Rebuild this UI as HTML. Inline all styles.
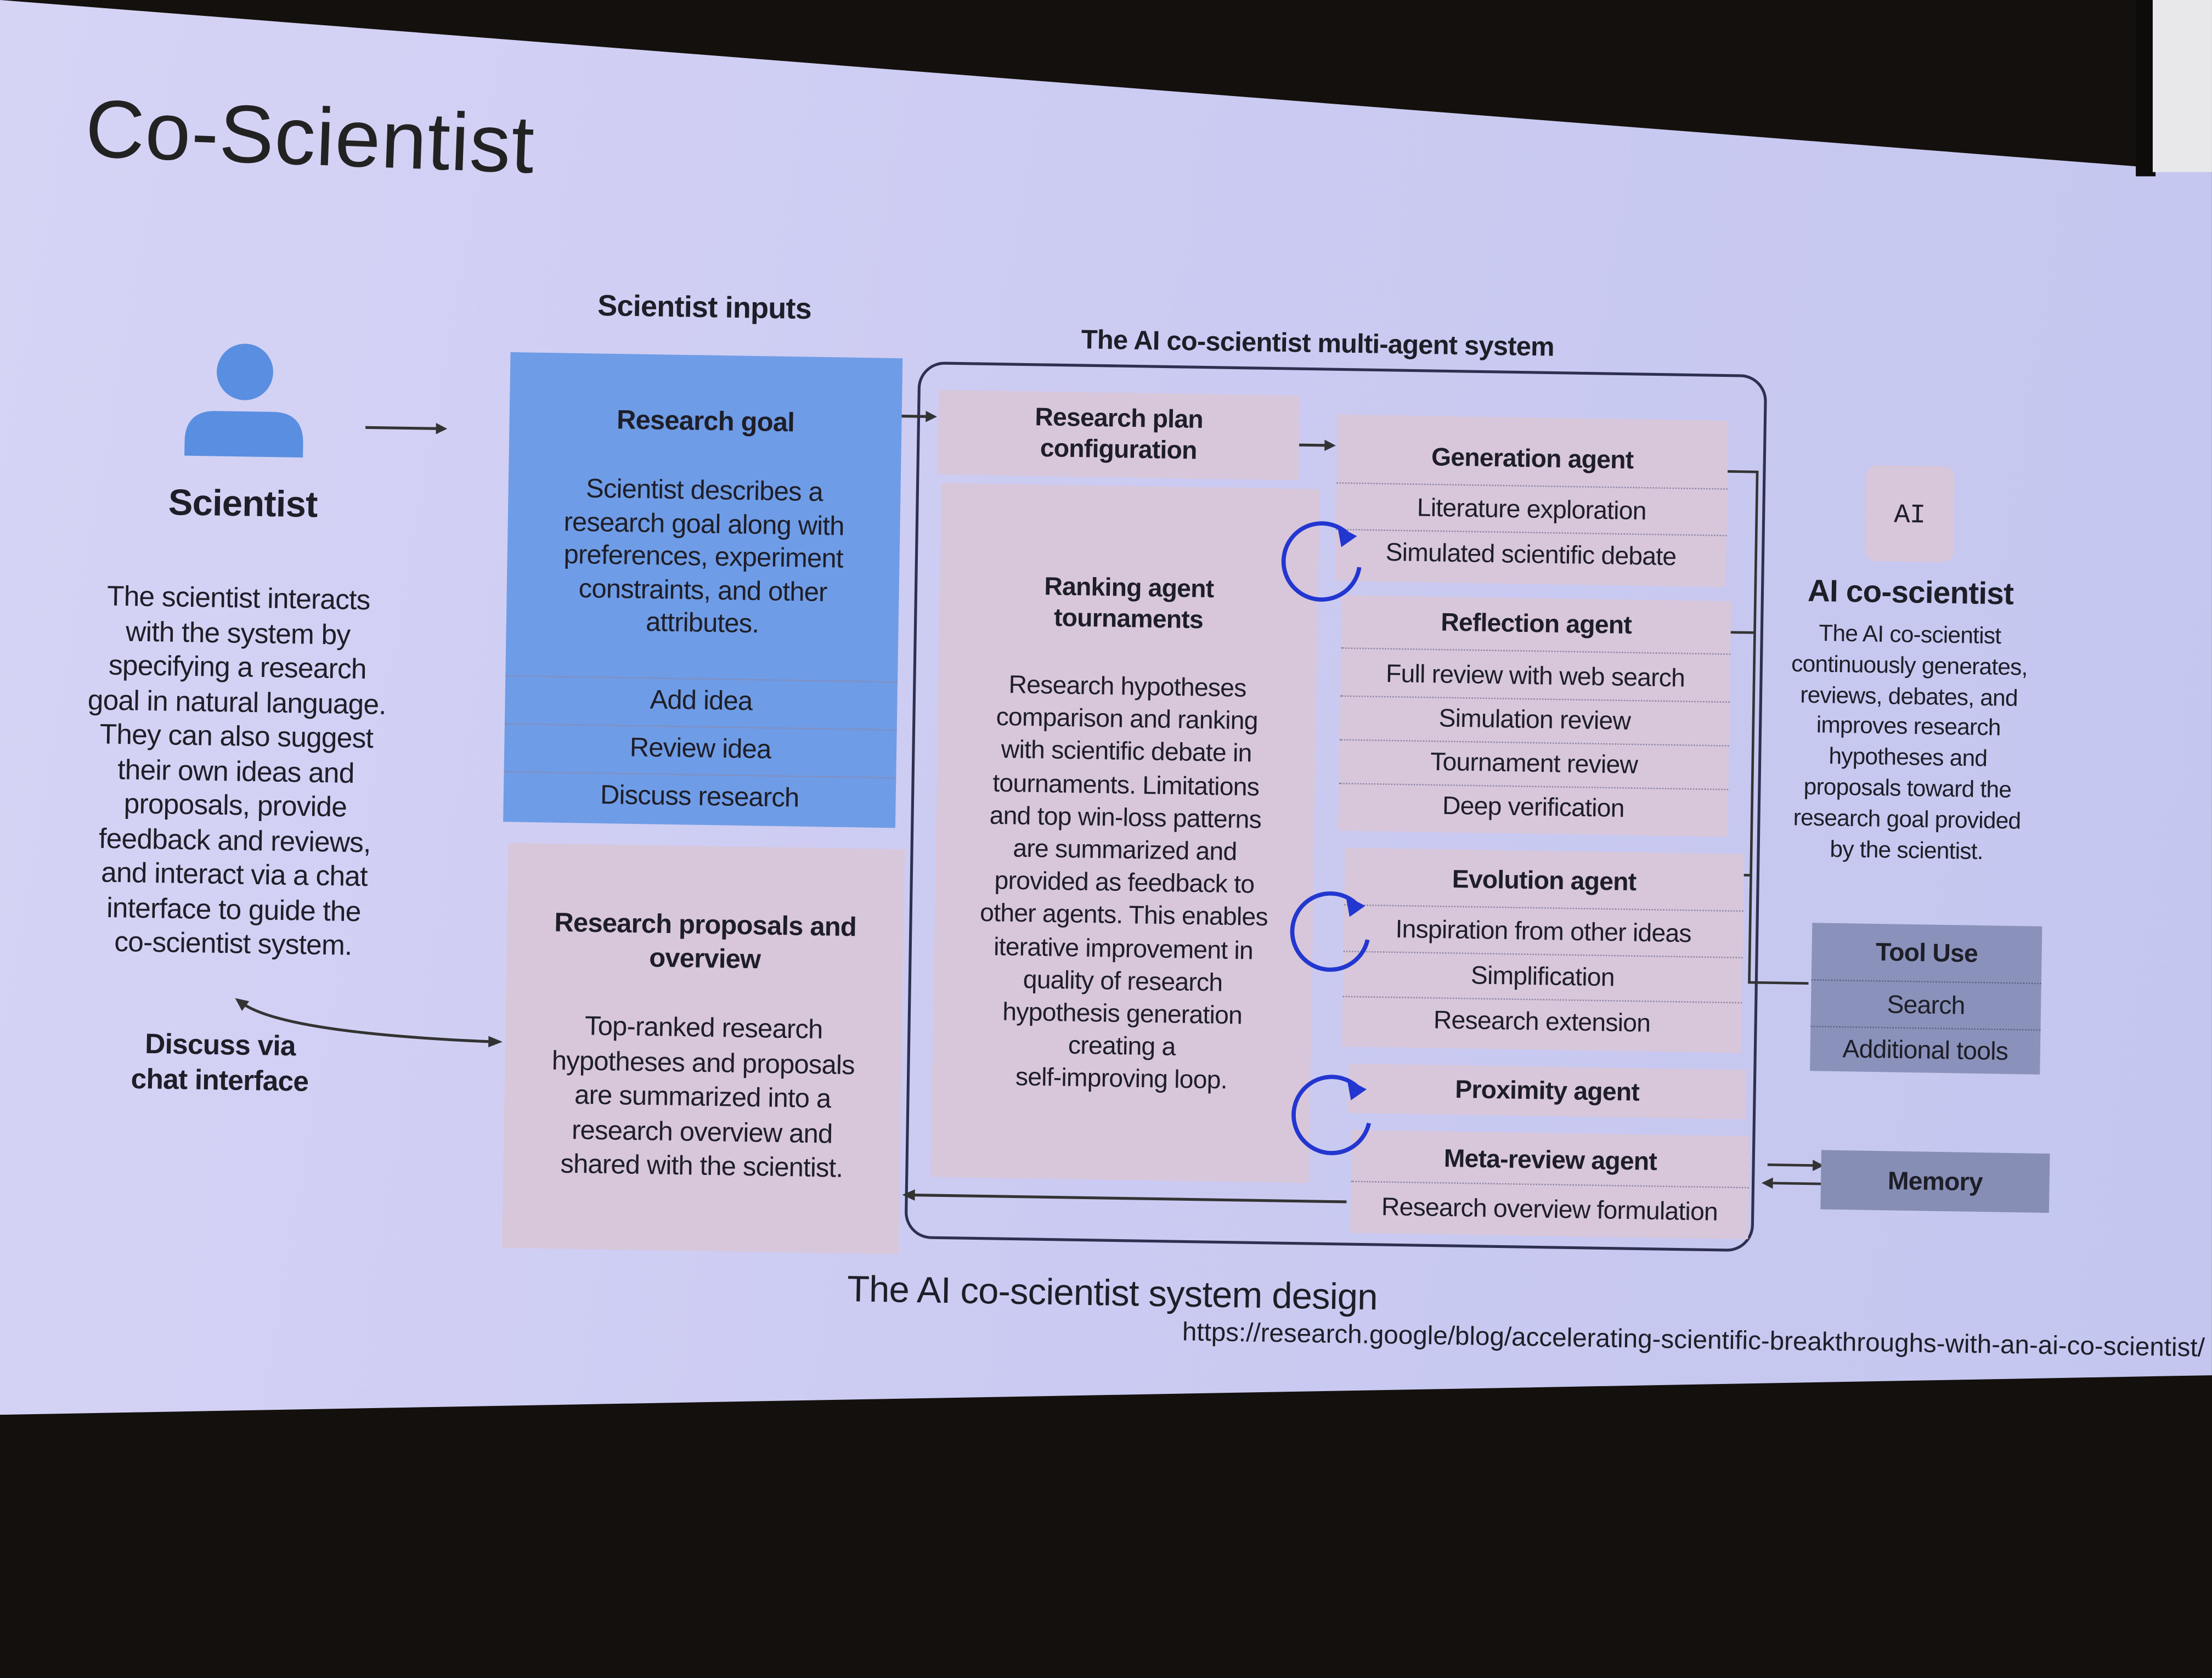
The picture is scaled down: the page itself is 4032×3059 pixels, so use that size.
<!DOCTYPE html>
<html><head><meta charset="utf-8">
<style>
html,body{margin:0;padding:0;width:4032px;height:3024px;overflow:hidden;background:#14100d;}
#w{position:absolute;left:0;top:0;width:1568px;height:1176px;transform:scale(2.5714);transform-origin:0 0;font-family:"Liberation Sans",sans-serif;color:#1e1e28;}
#slide{position:absolute;left:0;top:0;width:1568px;height:1176px;background:linear-gradient(100deg,#d6d4f5 0%,#cccbf2 45%,#c3c6ef 100%);clip-path:polygon(0 0,1515px 118px,1568px 122px,1568px 975px,0 1003px);}
#tr{position:absolute;left:1526px;top:0;width:42px;height:122px;background:#e8e8ea;}
#bez{position:absolute;left:1514px;top:0;width:14px;height:125px;background:#0e0c0b;}
#p{position:absolute;left:0;top:0;width:1568px;height:1176px;transform:rotate(0.9deg);transform-origin:700px 500px;}
.a{position:absolute;}
.c{position:absolute;text-align:center;white-space:nowrap;letter-spacing:-0.3px;}
.b{font-weight:bold;}
.box{position:absolute;}
.dl{position:absolute;border-top:1.5px dotted #8d86a8;}
.row{position:absolute;text-align:center;font-size:18px;white-space:nowrap;letter-spacing:-0.3px;}
.pk{background:#d8c7da;}
</style></head><body>
<div id="w">
<div id="slide"></div>
<div id="bez"></div><div id="tr"></div>
<div id="p">
<div class="a" style="left:55px;top:68px;font-size:58px;letter-spacing:0.5px;color:#222;transform:rotate(1.2deg);transform-origin:0 0;">Co-Scientist</div>

<svg class="a" style="left:0;top:0" width="1568" height="1176">
<circle cx="170" cy="272" r="20" fill="#5a8ee0"/>
<path d="M128 332 L128 322 Q128 300 150 300 L190 300 Q212 300 212 322 L212 332 Z" fill="#5a8ee0"/>
<line x1="256" y1="310" x2="308" y2="310" stroke="#333" stroke-width="2"/>
<path d="M306 306 L314 310 L306 314Z" fill="#333"/>
<path d="M173 718 Q200 740 352 744" stroke="#333" stroke-width="2" fill="none"/>
<path d="M350 740 L360 744 L350 748Z" fill="#333"/>
<path d="M170 716 L180 718 L175 725Z" fill="#333"/>
<rect x="648" y="258" width="600" height="620" rx="18" fill="none" stroke="#2e3050" stroke-width="2"/>
<line x1="632" y1="296" x2="655" y2="296" stroke="#333" stroke-width="2"/><path d="M653 292 L661 296 L653 300Z" fill="#333"/>
<line x1="918" y1="312" x2="938" y2="312" stroke="#333" stroke-width="2"/><path d="M936 308 L944 312 L936 316Z" fill="#333"/>
<line x1="960" y1="848" x2="652" y2="848" stroke="#333" stroke-width="2"/><path d="M654 844 L645 848 L654 852Z" fill="#333"/>
<g stroke="#333" stroke-width="1.8" fill="none">
<path d="M1220 326 L1243 326 L1243 688 L1285 688"/>
<path d="M1225 440 L1243 440"/>
<path d="M1236 612 L1243 612"/>
<path d="M1258 817 L1292 817"/><path d="M1296 830 L1262 830"/>
</g>
<path d="M1290 813 L1298 817 L1290 821Z" fill="#333"/><path d="M1262 826 L1254 830 L1262 834Z" fill="#333"/>
</svg>

<div class="c b" style="left:70px;width:200px;top:350px;font-size:26px;">Scientist</div>
<div class="c" style="left:18px;width:300px;top:421px;font-size:20px;line-height:24.5px;">The scientist interacts<br>with the system by<br>specifying a research<br>goal in natural language.<br>They can also suggest<br>their own ideas and<br>proposals, provide<br>feedback and reviews,<br>and interact via a chat<br>interface to guide the<br>co-scientist system.</div>
<div class="c b" style="left:60px;width:200px;top:738px;font-size:20px;line-height:25px;">Discuss via<br>chat interface</div>

<div class="c b" style="left:380px;width:230px;top:210px;font-size:21px;">Scientist inputs</div>
<div class="box" style="left:358px;top:255px;width:278px;height:333px;background:#6f9ce6;"></div>
<div class="c b" style="left:358px;width:278px;top:292px;font-size:19px;">Research goal</div>
<div class="c" style="left:358px;width:278px;top:340px;font-size:19px;line-height:23.5px;">Scientist describes a<br>research goal along with<br>preferences, experiment<br>constraints, and other<br>attributes.</div>
<div class="dl" style="left:358px;width:278px;top:484px;"></div>
<div class="dl" style="left:358px;width:278px;top:518px;"></div>
<div class="dl" style="left:358px;width:278px;top:552px;"></div>
<div class="c" style="left:358px;width:278px;top:490px;font-size:19px;">Add idea</div>
<div class="c" style="left:358px;width:278px;top:524px;font-size:19px;">Review idea</div>
<div class="c" style="left:358px;width:278px;top:558px;font-size:19px;">Discuss research</div>

<div class="box pk" style="left:362px;top:603px;width:281px;height:287px;"></div>
<div class="c b" style="left:362px;width:281px;top:648px;font-size:19px;line-height:24px;">Research proposals and<br>overview</div>
<div class="c" style="left:362px;width:281px;top:721px;font-size:19px;line-height:24.5px;">Top-ranked research<br>hypotheses and proposals<br>are summarized into a<br>research overview and<br>shared with the scientist.</div>

<div class="c b" style="left:700px;width:460px;top:230px;font-size:19px;">The AI co-scientist multi-agent system</div>
<div class="box pk" style="left:662px;top:277px;width:256px;height:60px;"></div>
<div class="c b" style="left:662px;width:256px;top:284px;font-size:18px;line-height:22px;">Research plan<br>configuration</div>
<div class="box pk" style="left:665px;top:343px;width:268px;height:492px;"></div>
<div class="c b" style="left:665px;width:268px;top:404px;font-size:18px;line-height:22px;">Ranking agent<br>tournaments</div>
<div class="c" style="left:665px;width:268px;top:474px;font-size:18px;line-height:23.2px;">Research hypotheses<br>comparison and ranking<br>with scientific debate in<br>tournaments. Limitations<br>and top win-loss patterns<br>are summarized and<br>provided as feedback to<br>other agents. This enables<br>iterative improvement in<br>quality of research<br>hypothesis generation<br>creating a<br>self-improving loop.</div>

<div class="box pk" style="left:945px;top:290px;width:277px;height:118px;"></div>
<div class="row b" style="left:945px;width:277px;top:309px;">Generation agent</div>
<div class="dl" style="left:945px;width:277px;top:338px;"></div>
<div class="row" style="left:945px;width:277px;top:345px;">Literature exploration</div>
<div class="dl" style="left:945px;width:277px;top:371px;"></div>
<div class="row" style="left:945px;width:277px;top:377px;">Simulated scientific debate</div>

<div class="box pk" style="left:950px;top:418px;width:276px;height:167px;"></div>
<div class="row b" style="left:950px;width:276px;top:426px;">Reflection agent</div>
<div class="dl" style="left:950px;width:276px;top:455px;"></div>
<div class="row" style="left:950px;width:276px;top:463px;">Full review with web search</div>
<div class="dl" style="left:950px;width:276px;top:489px;"></div>
<div class="row" style="left:950px;width:276px;top:494px;">Simulation review</div>
<div class="dl" style="left:950px;width:276px;top:520px;"></div>
<div class="row" style="left:950px;width:276px;top:525px;">Tournament review</div>
<div class="dl" style="left:950px;width:276px;top:551px;"></div>
<div class="row" style="left:950px;width:276px;top:556px;">Deep verification</div>

<div class="box pk" style="left:955px;top:597px;width:283px;height:141px;"></div>
<div class="row b" style="left:955px;width:283px;top:608px;">Evolution agent</div>
<div class="dl" style="left:955px;width:283px;top:637px;"></div>
<div class="row" style="left:955px;width:283px;top:644px;">Inspiration from other ideas</div>
<div class="dl" style="left:955px;width:283px;top:670px;"></div>
<div class="row" style="left:955px;width:283px;top:676px;">Simplification</div>
<div class="dl" style="left:955px;width:283px;top:702px;"></div>
<div class="row" style="left:955px;width:283px;top:708px;">Research extension</div>

<div class="box pk" style="left:960px;top:750px;width:282px;height:35px;"></div>
<div class="row b" style="left:960px;width:282px;top:757px;">Proximity agent</div>
<div class="box pk" style="left:963px;top:797px;width:282px;height:73px;"></div>
<div class="row b" style="left:963px;width:282px;top:806px;">Meta-review agent</div>
<div class="dl" style="left:963px;width:282px;top:833px;"></div>
<div class="row" style="left:963px;width:282px;top:841px;">Research overview formulation</div>

<svg class="a" style="left:0;top:0" width="1568" height="1176">
<g stroke="#2236d0" stroke-width="3" fill="none">
<path d="M953 374 A27 27 0 1 0 962 398"/>
<path d="M963 636 A27 27 0 1 0 972 662"/>
<path d="M966 766 A27 27 0 1 0 975 792"/>
</g>
<path d="M946 369 L960 376 L949 384Z" fill="#2236d0"/>
<path d="M956 631 L970 638 L959 646Z" fill="#2236d0"/>
<path d="M959 761 L973 768 L962 776Z" fill="#2236d0"/>
</svg>

<div class="box" style="left:1320px;top:320px;width:63px;height:68px;background:#d8c6da;border-radius:8px;"></div>
<div class="c" style="left:1320px;width:63px;top:344px;font-size:19px;font-family:'Liberation Mono',monospace;">AI</div>
<div class="c b" style="left:1250px;width:206px;top:397px;font-size:22px;">AI co-scientist</div>
<div class="c" style="left:1250px;width:206px;top:430px;font-size:16.5px;line-height:21.8px;">The AI co-scientist<br>continuously generates,<br>reviews, debates, and<br>improves research<br>hypotheses and<br>proposals toward the<br>research goal provided<br>by the scientist.</div>

<div class="box" style="left:1287px;top:645px;width:163px;height:105px;background:#8a92bb;"></div>
<div class="c b" style="left:1287px;width:163px;top:655px;font-size:18px;">Tool Use</div>
<div class="dl" style="left:1287px;width:163px;top:685px;border-color:#5d6486;"></div>
<div class="c" style="left:1287px;width:163px;top:692px;font-size:18px;">Search</div>
<div class="dl" style="left:1287px;width:163px;top:718px;border-color:#5d6486;"></div>
<div class="c" style="left:1287px;width:163px;top:724px;font-size:18px;">Additional tools</div>
<div class="box" style="left:1296px;top:806px;width:162px;height:42px;background:#868eb6;"></div>
<div class="c b" style="left:1296px;width:162px;top:817px;font-size:18px;">Memory</div>

<div class="c" style="left:540px;width:510px;top:900px;font-size:26px;">The AI co-scientist system design</div>
<div class="a" style="left:845px;top:931px;font-size:18.5px;white-space:nowrap;">https://research.google/blog/accelerating-scientific-breakthroughs-with-an-ai-co-scientist/</div>
</div>
</div>
</body></html>
